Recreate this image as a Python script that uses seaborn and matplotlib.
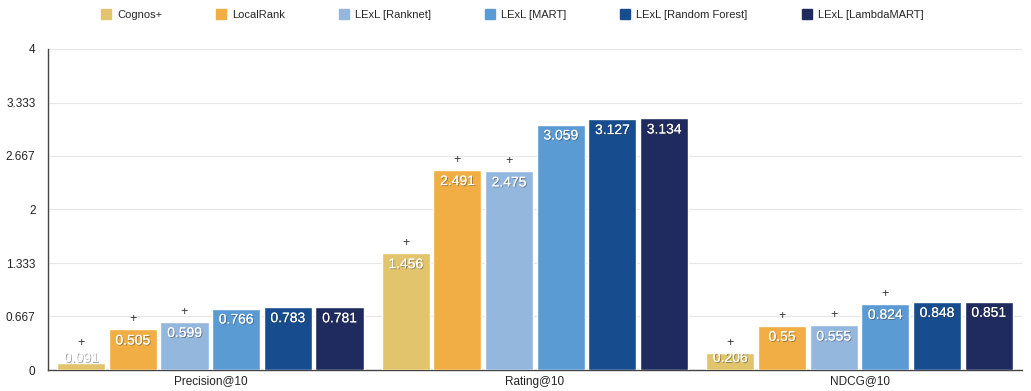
import matplotlib
matplotlib.use("Agg")
import matplotlib.pyplot as plt
import matplotlib.patheffects as pe
from matplotlib.lines import Line2D
import seaborn as sns
import pandas as pd

# Data
metrics = ["Precision@10", "Rating@10", "NDCG@10"]
methods = ["Cognos+", "LocalRank", "LExL [Ranknet]", "LExL [MART]",
           "LExL [Random Forest]", "LExL [LambdaMART]"]
precision = [0.091, 0.505, 0.599, 0.766, 0.783, 0.781]
rating = [1.456, 2.491, 2.475, 3.059, 3.127, 3.134]
ndcg = [0.206, 0.55, 0.555, 0.824, 0.848, 0.851]
# "+" significance markers per method, per metric
sig_precision = [True, True, True, False, False, False]
sig_rating = [True, True, True, False, False, False]
sig_ndcg = [True, True, True, True, False, False]
y_ticks = [0, 0.667, 1.333, 2, 2.667, 3.333, 4]
y_tick_labels = ["0", "0.667", "1.333", "2", "2.667", "3.333", "4"]

colors = ["#E2C46C", "#F0AE45", "#93B7DD", "#5B9BD4", "#174D8F", "#1F2B5E"]

rows = []
for metric, vals, sigs in zip(metrics, [precision, rating, ndcg],
                              [sig_precision, sig_rating, sig_ndcg]):
    for m, v, s in zip(methods, vals, sigs):
        rows.append({"metric": metric, "method": m, "value": v, "sig": s})
df = pd.DataFrame(rows)

sns.set_theme(style="white")
plt.rcParams["font.family"] = ["Liberation Sans", "DejaVu Sans"]

fig = plt.figure(figsize=(10.31, 3.91), dpi=100)
ax = fig.add_axes([0.0466, 0.0537, 0.9445, 0.821])

sns.barplot(data=df, x="metric", y="value", hue="method", order=metrics,
            hue_order=methods, palette=colors, width=0.955, gap=0.07,
            saturation=1, legend=False, ax=ax, zorder=3)

ax.set_ylim(0, 4)
ax.set_xlim(-0.5, 2.5)
ax.set_yticks(y_ticks)
ax.set_yticklabels(y_tick_labels, fontsize=8.5, color="#222222")
ax.tick_params(axis="x", labelsize=8.5, colors="#222222", length=0, pad=4)
ax.tick_params(axis="y", length=0, pad=9)
ax.set_xlabel("")
ax.set_ylabel("")
ax.grid(axis="y", color="#e6e6e6", linewidth=0.8, zorder=0)
for side in ["top", "right"]:
    ax.spines[side].set_visible(False)
for side in ["left", "bottom"]:
    ax.spines[side].set_color("#444444")
    ax.spines[side].set_linewidth(1.0)

# Value labels and significance markers
px_per_unit = ax.get_window_extent().height / 4.0
shadow = [pe.withSimplePatchShadow(offset=(0.7, -0.7), shadow_rgbFace="#333333", alpha=0.45),
          pe.Normal()]
for i, method in enumerate(methods):
    cont = ax.containers[i]
    for j, bar in enumerate(cont.patches):
        row = df[(df.method == method) & (df.metric == metrics[j])].iloc[0]
        val, sig = row["value"], row["sig"]
        cx = bar.get_x() + bar.get_width() / 2
        bar_px = val * px_per_unit
        off = -11 if bar_px >= 23 else -(bar_px - 12)
        ax.annotate(f"{val:g}", xy=(cx, val), xytext=(0, off),
                    textcoords="offset pixels", ha="center", va="center",
                    fontsize=10, color="white", path_effects=shadow, zorder=5)
        if sig:
            plus_off = max(10, off + 15)
            ax.annotate("+", xy=(cx, val), xytext=(0, plus_off),
                        textcoords="offset pixels", ha="center", va="center",
                        fontsize=9, color="#333333", zorder=5)

handles = [Line2D([0], [0], marker="s", linestyle="none", markersize=7,
                  markerfacecolor=c, markeredgecolor=c) for c in colors]
fig.legend(handles, methods, loc="upper center", bbox_to_anchor=(0.497, 1.0),
           ncol=6, frameon=False, fontsize=8, handletextpad=0.6,
           columnspacing=4.9, handlelength=0.8)

fig.savefig("out.png", dpi=100)
